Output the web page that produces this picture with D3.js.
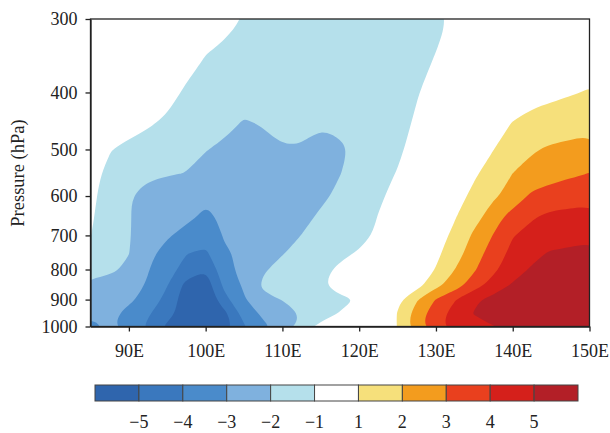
<!DOCTYPE html>
<html>
<head>
<meta charset="utf-8">
<script src="https://cdn.jsdelivr.net/npm/d3@7"></script>
<style>
  body { margin: 0; background: #fff; }
  svg { display: block; }
  svg text { font-family: "Times New Roman", "Liberation Serif", Tinos, Times, serif; }
</style>
</head>
<body>
<div id="chart"></div>
<script>
// grid columns (deg E)
var lons = [85, 87.5, 90, 92.5, 95, 97.5, 100, 102.5, 105, 107.5, 110, 112.5, 115, 117.5,
            120, 122.5, 125, 127.5, 130, 132.5, 135, 137.5, 140, 142.5, 145, 147.5, 150];
// grid rows (hPa), top to bottom
var levels = [300, 350, 400, 450, 500, 550, 600, 650, 700, 750, 800, 850, 900, 950, 1000];

// anomaly field, one row per level
var field = [
  [-0.1, -0.15, -0.2, -0.3, -0.35, -0.45, -0.55, -0.6, -1.05, -1.3, -1.45, -1.5, -1.55, -1.55, -1.5, -1.45, -1.4, -1.35, -1.25, -0.85, -0.6, -0.4, -0.2, 0, 0.1, 0.2, 0.3],
  [-0.15, -0.2, -0.25, -0.3, -0.4, -0.5, -1.05, -1.35, -1.5, -1.6, -1.65, -1.7, -1.7, -1.65, -1.6, -1.5, -1.4, -1.3, -0.95, -0.6, -0.3, -0.05, 0.15, 0.3, 0.45, 0.55, 0.65],
  [-0.2, -0.25, -0.3, -0.4, -0.55, -1.2, -1.45, -1.6, -1.7, -1.8, -1.8, -1.8, -1.75, -1.7, -1.6, -1.45, -1.25, -1.05, -0.7, -0.3, 0.05, 0.35, 0.55, 0.7, 0.8, 0.93, 1.06],
  [-0.25, -0.35, -0.5, -0.85, -1.2, -1.45, -1.6, -1.8, -2.05, -1.95, -1.75, -1.8, -1.93, -1.85, -1.6, -1.4, -1.25, -0.9, -0.5, -0.1, 0.35, 0.75, 1.02, 1.25, 1.4, 1.55, 1.68],
  [-0.6, -0.95, -1.3, -1.5, -1.65, -1.8, -1.97, -2.15, -2.3, -2.2, -2.05, -2.05, -2.25, -2.1, -1.85, -1.5, -1.15, -0.7, -0.25, 0.15, 0.55, 0.99, 1.35, 1.9, 2.15, 2.25, 2.33],
  [-0.75, -1.2, -1.75, -1.85, -1.95, -2.02, -2.3, -2.5, -2.6, -2.6, -2.5, -2.4, -2.3, -2.02, -1.7, -1.3, -0.95, -0.55, -0.1, 0.4, 0.9, 1.35, 2.02, 2.35, 2.6, 2.85, 3.03],
  [-0.85, -1.3, -1.95, -2.3, -2.4, -2.6, -2.85, -2.9, -2.85, -2.75, -2.6, -2.4, -2.2, -1.8, -1.5, -1.15, -0.7, -0.3, 0.2, 0.7, 1.2, 1.85, 2.35, 3.2, 3.45, 3.6, 3.72],
  [-0.9, -1.4, -1.95, -2.35, -2.5, -2.8, -3.15, -2.85, -2.8, -2.7, -2.55, -2.3, -1.85, -1.65, -1.45, -0.97, -0.5, 0.0, 0.5, 0.95, 1.6, 2.55, 3.4, 3.9, 4.2, 4.25, 4.3],
  [-0.98, -1.5, -1.95, -2.4, -2.9, -3.3, -3.6, -2.9, -2.8, -2.65, -2.45, -1.98, -1.75, -1.55, -1.3, -0.85, -0.4, 0.1, 0.65, 1.2, 2.2, 3.05, 3.95, 4.3, 4.5, 4.7, 4.85],
  [-1.3, -1.6, -1.98, -2.8, -3.3, -3.97, -4.15, -3.12, -2.8, -2.5, -2.05, -1.7, -1.5, -1.25, -0.9, -0.6, -0.2, 0.3, 0.8, 1.5, 2.6, 3.4, 4.3, 4.75, 5.1, 5.15, 5.2],
  [-1.75, -1.85, -2.15, -2.95, -3.6, -4.4, -4.97, -3.3, -2.7, -2.1, -1.7, -1.5, -1.3, -0.8, -0.5, -0.3, 0.0, 0.4, 1.05, 2.02, 2.9, 3.8, 4.6, 5.1, 5.35, 5.45, 5.5],
  [-2.15, -2.3, -2.6, -3.1, -3.97, -5.3, -5.6, -3.7, -2.85, -1.85, -1.6, -1.4, -1.1, -0.6, -0.4, -0.2, 0.1, 0.6, 1.7, 2.5, 3.55, 4.4, 5.1, 5.45, 5.6, 5.65, 5.7],
  [-2.3, -2.5, -2.8, -3.4, -4.3, -5.6, -5.9, -4.3, -3.1, -2.2, -1.97, -1.6, -1.4, -1.2, -0.95, -0.2, 0.75, 1.9, 3.05, 3.95, 4.85, 5.3, 5.5, 5.65, 5.75, 5.8, 5.8],
  [-2.8, -2.7, -3.3, -3.9, -4.6, -5.6, -5.9, -5.2, -3.6, -2.8, -2.4, -1.95, -1.5, -0.95, -0.6, 0.0, 1.05, 2.45, 3.6, 4.35, 5.05, 5.6, 5.85, 5.95, 6.0, 6.0, 5.95],
  [-3.3, -2.85, -3.4, -4.15, -5.2, -5.8, -6.0, -5.5, -4.1, -3.2, -2.6, -1.7, -0.7, -0.4, -0.2, 0.0, 1.05, 2.6, 3.7, 4.4, 4.7, 4.95, 5.5, 5.8, 5.9, 5.9, 5.85]
];

var thresholds = [-5, -4, -3, -2, -1, 1, 2, 3, 4, 5];
var colors = ["#2f65ad", "#3a78be", "#4a8bcb", "#7fb1de", "#b5e0eb", "#ffffff",
              "#f6e07b", "#f39c1e", "#e9401e", "#d5201b", "#b31f27"];
var barLabels = ["\u22125", "\u22124", "\u22123", "\u22122", "\u22121", "1", "2", "3", "4", "5"];
var lonTicks = [90, 100, 110, 120, 130, 140, 150];
var presTicks = [300, 400, 500, 600, 700, 800, 900, 1000];

var svgWidth = 610;
var svgHeight = 433;
var plot = {left: 90.5, right: 589.5, top: 19, bottom: 326.5};

var svg = d3.select("#chart").append("svg")
  .attr("width", svgWidth)
  .attr("height", svgHeight);

var x = d3.scaleLinear().domain([85, 150]).range([plot.left, plot.right]);
var y = d3.scaleLog().domain([300, 1000]).range([plot.top, plot.bottom]);
var color = d3.scaleThreshold().domain(thresholds).range(colors);

// grid index -> pixel (values sit at index + 0.5 in d3.contours space)
var nx = lons.length, ny = levels.length;
var gx = d3.scaleLinear().domain([0.5, nx - 0.5]).range([x(lons[0]), x(lons[nx - 1])]);
var gy = d3.scaleLinear().domain(levels.map((d, i) => i + 0.5)).range(levels.map(d => y(d)));

svg.append("clipPath").attr("id", "clip")
  .append("rect")
  .attr("x", plot.left).attr("y", plot.top)
  .attr("width", plot.right - plot.left).attr("height", plot.bottom - plot.top);

var flat = d3.merge(field);
var contours = d3.contours().size([nx, ny]).thresholds([1, 2, 3, 4, 5]);
var ringLine = d3.line()
  .x(p => gx(p[0]))
  .y(p => gy(p[1]))
  .curve(d3.curveBasisClosed);

function geomPath(g) {
  return g.coordinates.map(poly => poly.map(ring => ringLine(ring.slice(0, -1))).join("")).join("");
}

var fills = svg.append("g").attr("clip-path", "url(#clip)");

// negative side: contour the negated field
contours(flat.map(v => -v)).forEach(function(g) {
  fills.append("path")
    .attr("d", geomPath(g))
    .attr("fill", color(-g.value - 0.5))
    .attr("fill-rule", "evenodd");
});
// positive side
contours(flat).forEach(function(g) {
  fills.append("path")
    .attr("d", geomPath(g))
    .attr("fill", color(g.value + 0.5))
    .attr("fill-rule", "evenodd");
});

// frame
svg.append("rect")
  .attr("x", plot.left).attr("y", plot.top)
  .attr("width", plot.right - plot.left).attr("height", plot.bottom - plot.top)
  .attr("fill", "none").attr("stroke", "#222").attr("stroke-width", 1.3);

var leftAxis = d3.axisLeft(y)
  .tickValues(presTicks)
  .tickFormat(d3.format("d"))
  .tickSize(5).tickSizeOuter(0).tickPadding(8);

var bottomAxis = d3.axisBottom(x)
  .tickValues(lonTicks)
  .tickFormat(d => d + "E")
  .tickSize(5).tickSizeOuter(0).tickPadding(12.5);

var yAxis = svg.append("g")
  .attr("transform", `translate(${plot.left},0)`)
  .call(leftAxis);

var xAxis = svg.append("g")
  .attr("transform", `translate(0,${plot.bottom})`)
  .call(bottomAxis);

[yAxis, xAxis].forEach(function(a) {
  a.attr("font-family", null).attr("font-size", null);
  a.select(".domain").attr("stroke", "#222").attr("stroke-width", 1.3);
  a.selectAll(".tick line").attr("stroke", "#222").attr("stroke-width", 1.3);
  a.selectAll(".tick text")
    .attr("fill", "#222")
    .style("font-size", "18px");
});

svg.append("text")
  .attr("transform", "translate(24,173) rotate(-90)")
  .attr("text-anchor", "middle")
  .attr("fill", "#222")
  .style("font-size", "18.5px")
  .text("Pressure (hPa)");

// colour bar
var bar = {left: 95, right: 578, top: 385, height: 16};
var bx = d3.scaleLinear().domain([0, colors.length]).range([bar.left, bar.right]);

svg.append("g").selectAll("rect")
  .data(colors)
  .enter()
  .append("rect")
  .attr("x", (d, i) => bx(i))
  .attr("y", bar.top)
  .attr("width", (d, i) => bx(i + 1) - bx(i))
  .attr("height", bar.height)
  .attr("fill", d => d)
  .attr("stroke", "#444")
  .attr("stroke-width", 1);

svg.append("g").selectAll("text")
  .data(barLabels)
  .enter()
  .append("text")
  .attr("x", (d, i) => bx(i + 1))
  .attr("y", 428)
  .attr("text-anchor", "middle")
  .attr("fill", "#222")
  .style("font-size", "18px")
  .text(d => d);
</script>
</body>
</html>
